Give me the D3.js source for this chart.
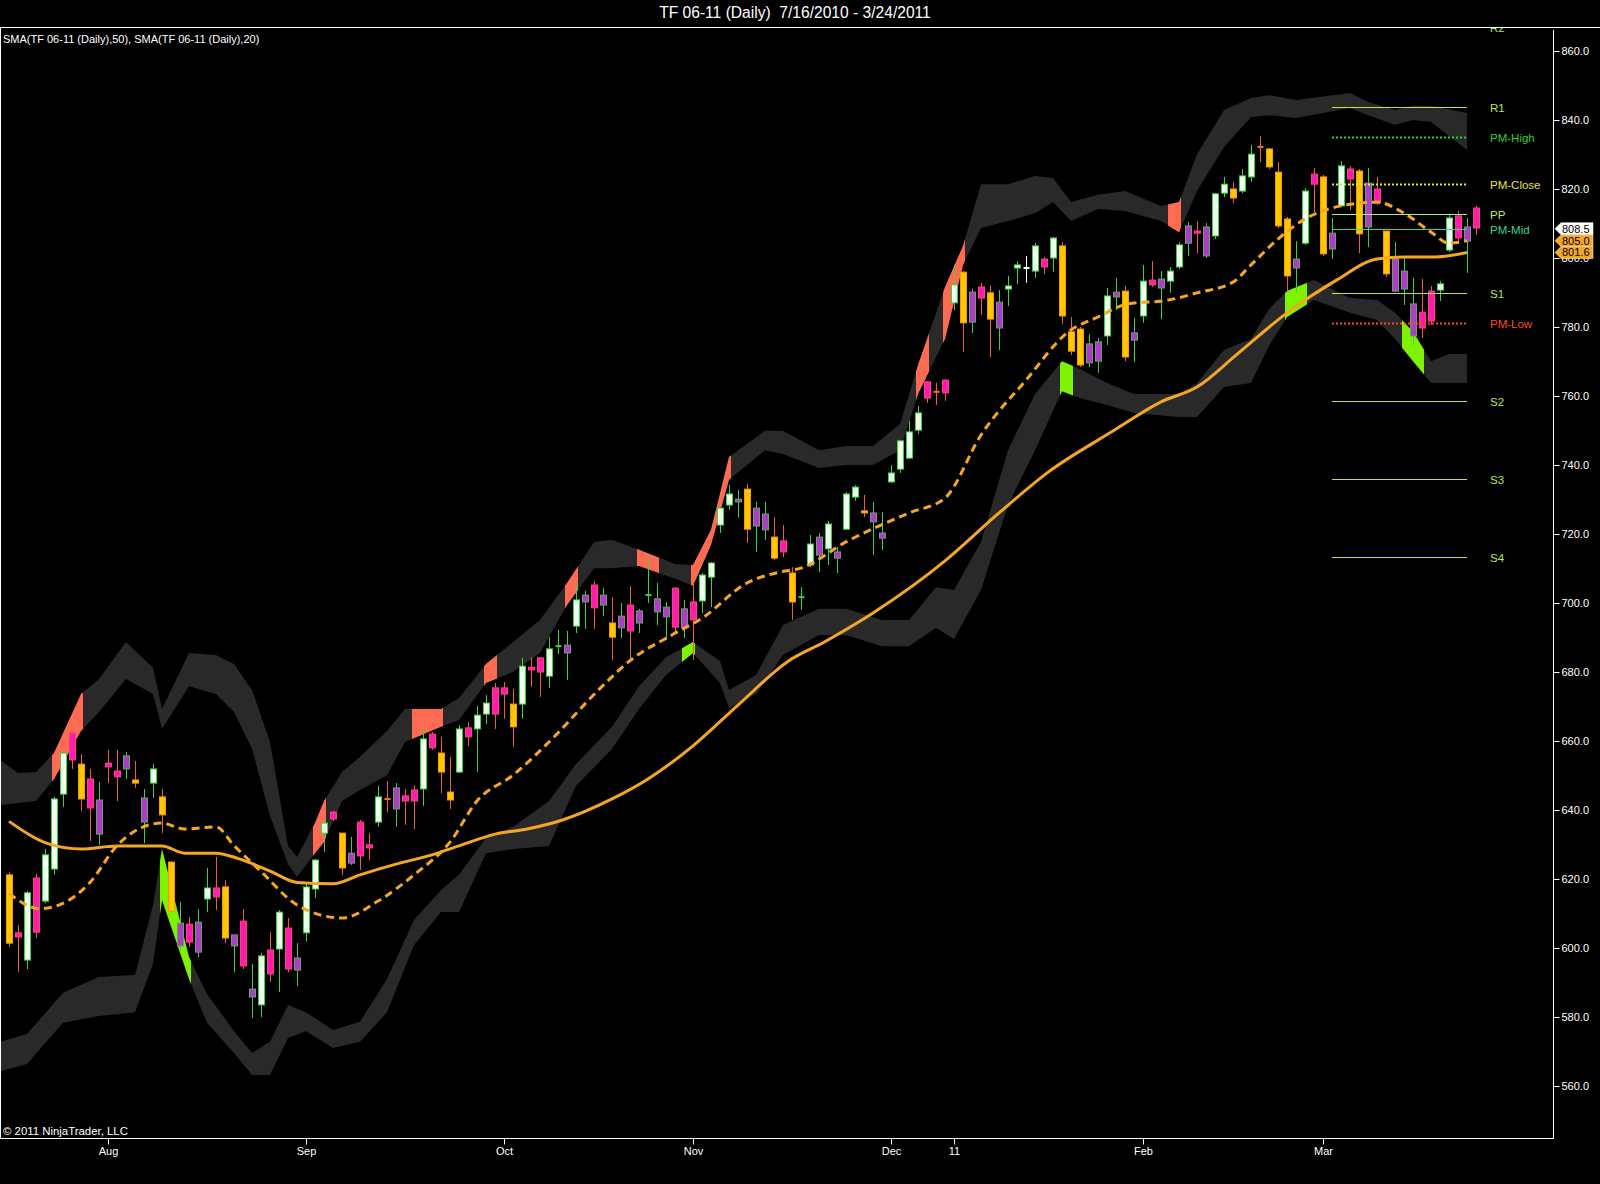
<!DOCTYPE html>
<html>
<head>
<meta charset="utf-8">
<title>TF 06-11 (Daily)</title>
<script src="https://cdnjs.cloudflare.com/ajax/libs/d3/7.8.5/d3.min.js"></script>
<style>
body { margin: 0; background: #000; }
svg { display: block; font-family: 'Liberation Sans', Arial, sans-serif; }
</style>
</head>
<body>
<svg width="1600" height="1184"></svg>
<script>
// daily bars, 7/16/2010 - 3/24/2011 (bar index 0..163)
var opens = [621.2,604.4,596.5,620.3,613.6,622.9,644.6,662.3,653.3,649.0,
633.0,653.6,651.3,651.9,648.7,636.5,647.8,643.8,624.9,600.6,
606.9,598.8,614.2,617.4,617.7,600.6,607.8,585.8,583.5,599.4,
599.7,605.8,593.6,604.4,617.1,633.3,639.4,633.3,624.6,636.5,
629.9,636.5,643.2,640.3,644.1,645.8,646.1,662.0,656.5,645.2,
651.0,663.8,663.5,667.8,675.4,675.4,670.7,670.7,681.4,684.1,
678.8,687.5,685.5,693.3,700.3,705.2,699.4,694.2,692.8,699.4,
694.2,702.3,697.4,696.0,704.3,692.8,700.3,700.6,707.5,722.6,
728.4,729.3,733.0,722.3,721.2,719.1,718.0,708.7,701.7,711.0,
713.9,715.7,713.0,721.4,730.7,726.7,723.5,718.8,735.1,738.8,
742.0,750.1,764.1,761.2,764.6,787.0,795.9,781.4,791.6,789.9,
779.7,791.0,797.1,797.1,796.2,799.7,800.0,803.5,778.6,779.4,
769.6,770.1,777.4,788.7,790.4,776.2,783.2,793.6,791.3,793.3,
797.4,804.3,807.8,800.6,806.4,818.8,820.0,819.4,823.5,832.2,
831.6,824.9,811.3,797.1,804.3,824.3,823.5,802.6,815.1,825.8,
825.2,809.0,820.0,807.8,790.4,791.0,777.4,784.3,790.4,790.7,
802.3,812.2,804.9,814.5];
var highs = [622.0,606.7,616.5,621.5,628.7,643.8,657.1,662.5,656.2,651.9,
648.1,657.4,657.4,656.8,654.2,646.1,653.3,646.1,625.2,613.3,
609.0,611.3,623.2,626.4,619.7,603.8,611.3,595.4,598.6,604.6,
611.0,608.7,601.4,619.1,625.8,637.1,639.7,633.3,632.2,637.1,
633.3,647.0,648.4,647.8,646.1,647.2,664.1,662.6,661.2,655.4,
664.6,665.5,670.1,673.3,676.8,677.1,675.1,684.1,684.3,684.3,
690.1,692.2,691.9,705.8,703.5,706.4,704.3,701.7,700.0,704.9,
698.3,713.3,705.8,700.3,704.6,700.9,705.8,708.7,711.9,728.4,
734.2,732.8,734.5,729.3,729.3,724.9,722.6,710.4,704.6,719.7,
720.3,723.8,716.2,732.2,734.2,731.3,729.3,726.4,740.0,747.0,
752.8,757.1,764.3,763.8,764.9,798.0,796.2,791.0,792.8,791.9,
790.7,794.8,799.1,800.6,804.3,800.3,806.1,804.6,782.9,780.0,
778.0,776.8,791.3,794.2,791.9,782.6,798.0,799.1,796.2,797.4,
804.6,810.4,810.7,810.1,818.8,823.5,822.0,825.8,832.8,835.4,
831.9,827.8,811.9,804.9,820.3,826.1,824.1,811.6,828.1,826.7,
825.8,826.1,823.5,807.8,804.6,800.3,794.2,793.9,791.9,793.3,
812.5,813.6,811.6,815.1];
var lows = [600.3,593.0,593.9,602.9,613.0,621.2,640.9,651.9,639.7,631.0,
629.9,647.8,642.6,649.0,646.4,630.4,643.5,633.3,610.4,599.4,
600.3,597.4,610.4,611.0,601.4,593.0,593.9,579.7,580.0,590.1,
587.2,593.0,589.0,602.0,614.5,627.8,636.8,621.2,624.1,622.6,
625.5,635.1,639.4,635.1,635.7,634.5,641.2,657.4,644.9,640.3,
650.7,658.6,651.0,664.9,663.5,666.4,658.3,666.4,675.7,672.8,
675.4,685.2,677.7,691.3,692.5,692.5,696.2,683.5,689.9,683.5,
691.3,700.0,693.6,689.3,691.3,689.9,683.5,697.1,698.8,720.3,
727.0,724.9,717.4,714.8,718.3,712.5,713.3,695.1,698.0,710.4,
709.0,711.0,708.7,721.2,729.6,724.9,713.9,715.4,734.8,737.7,
741.7,749.0,758.0,757.4,758.6,784.9,772.8,778.3,783.5,771.3,
773.3,786.1,792.5,792.8,794.2,795.4,795.9,780.9,771.9,768.4,
768.4,766.7,774.8,784.9,770.1,769.9,781.2,791.6,782.3,789.9,
796.8,800.6,801.4,800.0,805.5,817.7,815.9,818.8,822.0,827.8,
825.8,808.7,790.1,790.1,803.8,813.3,800.6,799.7,814.8,813.9,
801.4,803.2,815.4,794.5,790.1,786.4,774.8,776.8,780.6,787.5,
801.7,804.9,795.7,806.7];
var closes = [601.4,603.2,616.0,604.6,627.0,643.2,656.5,654.5,643.2,640.6,
642.9,652.5,649.6,655.7,647.8,643.5,651.9,638.6,610.7,607.2,
601.7,607.5,617.4,614.8,602.9,603.8,594.8,588.1,597.7,592.5,
610.4,593.9,597.1,617.7,625.5,636.2,637.4,623.2,627.5,626.7,
629.0,643.8,643.2,646.4,642.6,642.6,660.6,658.0,651.0,642.9,
663.5,661.2,667.5,671.0,667.8,673.6,664.1,681.7,680.6,680.0,
686.7,687.5,687.8,700.9,702.3,698.6,702.3,690.1,696.2,691.9,
697.7,702.3,701.2,698.8,693.0,698.3,695.1,708.1,711.6,727.5,
731.6,730.1,721.4,727.5,725.8,713.0,714.8,700.3,701.7,717.1,
719.1,722.9,714.8,731.6,733.6,726.1,726.1,720.3,737.7,747.0,
749.6,755.1,759.4,761.2,760.9,792.2,781.2,790.1,788.4,782.3,
787.2,791.9,798.0,797.1,803.5,797.4,805.8,783.2,773.0,769.0,
775.1,775.7,789.0,790.1,771.3,778.3,793.3,792.2,793.9,796.2,
803.8,809.3,807.2,809.0,818.6,821.4,817.4,823.8,830.1,832.2,
826.4,809.3,794.8,799.7,819.4,821.4,801.2,807.2,826.7,822.9,
807.0,821.7,815.9,795.4,799.7,796.2,786.7,779.7,781.7,792.5,
811.6,805.8,809.0,808.7];
// bar paint: w white up, p purple up, y gold down, m magenta down, d/g/x doji
var kinds = "ymwmwwwmympmmpypwyypmpwmypmpwmwmpwwwmypmmwdpmmwmyywmwwmmywmmwgpwpmpypmpgppmpmwwwwpyppymygwpwpwwyppwwwwmdmwypmypwwxwmwyyyppwpypwmpwwpmpwwywwdyyypwmypwmypmypppmmwwmpm".split("");

var monthIdx = [11, 33, 55, 76, 98, 105, 126, 146];
var monthLabels = ["Aug", "Sep", "Oct", "Nov", "Dec", "11", "Feb", "Mar"];
var priceTicks = [560, 580, 600, 620, 640, 660, 680, 700, 720, 740, 760, 780, 800, 820, 840, 860];

// SMA(50) and SMA(20), read at these bar positions
var sma50Idx = [0,4.5,8,12,17,19.5,23,25.5,29,32,36,39,43,47,50,54,57.6,61.5,67,71,76,81,86.5,90.6,96,104,110,115.5,122.7,128,132,136.5,142,147.5,152,155,158.5,162];
var sma50Val = [636.7,630.1,628.7,629.6,629.6,627.5,627.5,625.9,622.3,619.0,618.6,621.2,624.3,627.0,629.6,633.0,634.5,637.1,643.2,649.0,658.6,670.4,683.0,688.7,697.1,712.2,726.1,738.0,749.9,758.3,762.6,772.2,784.1,793.6,799.7,800.3,800.3,801.6];
var sma20Idx = [0,3.4,5.6,9,12,15.6,17,19.5,23,25,28,32,37,41,45,49,52,56,60,65.5,69,73.7,77,82,85.7,88,93,100,104,108,113,117.7,121,124.3,128.8,132,136,138,141,144,148,152,155,158,160,162];
var sma20Val = [615.8,611.4,612.5,619.0,629.7,635.7,636.2,634.5,635.1,629.7,622.2,612.5,608.7,613.6,621.2,630.7,642.6,650.1,659.7,674.8,683.3,690.8,695.6,705.8,709.0,710.1,717.7,726.1,730.4,748.7,764.6,778.6,782.9,786.7,787.8,789.9,793.0,798.0,805.5,811.3,815.1,816.2,813.0,807.5,804.3,805.0];

// upper and lower envelope bands (outer / inner edge)
var upIdx = [-1,1,3,5,8,10,13,16,17,20,23,25,27,29,31,32,34,35,37,39,42,44,48,50,53,56,59,62,65,67,70,74,76,78,80,84,86,90,93,96,99,101,104,106,108,111,114,116,118,121,124,128,130,132,135,138,140,143,149,151,154,156,158,162];
var upTop = [654.5,650.7,651.0,656.5,673.6,678.0,688.7,681.2,669.3,685.5,684.9,682.3,674.8,659.7,629.6,626.4,636.2,642.6,651.0,655.4,662.9,669.3,669.3,672.5,682.3,688.7,695.1,705.8,717.7,718.3,715.4,711.3,711.0,721.2,742.3,749.9,749.9,744.3,745.5,745.5,751.9,769.0,791.6,803.5,821.4,821.4,823.8,823.2,816.2,818.3,819.4,815.1,816.2,830.1,842.9,846.4,847.2,845.8,847.8,845.2,842.9,844.1,844.1,842.0];
var upBot = [641.4,642.0,642.6,649.0,662.9,668.4,678.0,673.6,663.5,675.9,673.6,668.4,657.7,638.3,624.3,620.6,627.5,630.7,642.6,645.8,650.1,659.7,664.1,666.1,676.8,680.0,685.5,699.4,710.1,710.1,710.7,707.0,705.0,716.8,735.7,744.3,743.2,739.1,740.0,740.0,744.3,760.6,776.5,798.0,808.7,810.7,813.0,816.2,810.7,814.2,813.6,810.7,807.5,819.4,832.2,840.9,841.4,840.6,843.5,841.4,838.6,840.0,839.4,831.3];
var loIdx = [-1,2,6,10,14,16,17,20,22,25,27,29,31,33,36,39,42,45,48,50,53,56,60,63,67,70,73,76,79,80,83,86,90,93,97,100,103,105,108,111,114,117,119,122,125,130,132,135,138,140,142,145,149,152,154,156,158,160,162];
var loTop = [572.8,575.1,587.0,591.6,592.2,612.5,628.7,597.4,586.7,575.9,569.6,572.8,583.5,581.4,576.2,578.6,591.0,608.1,616.8,621.2,631.9,635.1,642.6,653.3,664.1,675.9,684.3,688.7,683.2,674.8,679.1,693.6,698.3,698.3,695.1,695.1,704.6,703.8,717.7,744.3,760.6,770.1,767.8,763.8,760.6,760.6,763.8,773.3,776.5,785.2,790.4,793.6,788.4,787.8,784.1,778.6,770.1,772.2,772.2];
var loBot = [564.3,566.4,578.3,580.3,581.4,595.4,613.9,591.0,578.3,569.6,563.2,563.2,573.9,575.9,571.0,572.8,581.4,600.9,610.4,610.4,627.5,628.7,629.6,647.0,657.7,669.3,679.1,685.5,676.8,669.6,673.6,684.9,690.7,690.7,687.5,687.5,692.8,689.6,703.8,728.4,744.3,761.4,759.4,757.4,755.1,753.9,753.9,762.6,763.8,774.5,782.9,787.8,784.1,782.0,776.5,770.1,763.8,763.8,763.8];
// bar ranges where price pierced a band
var redZones = [[5,8],[34,35],[45,48],[53,54],[62,63],[70,72],[76,80],[101,102],[104,106],[129,130]];
var greenZones = [[17,20],[75,76],[117,118],[142,144],[155,157]];

// pivot levels, drawn over the last bars
var pivotNames = ["R2","R1","PM-High","PM-Close","PP","PM-Mid","S1","PM-Low","S2","S3","S4"];
var pivotValues = [867.0,843.9,835.2,821.4,812.7,808.3,789.8,781.3,758.6,735.8,713.3];
var pivotFrom = 147, pivotTo = 162;
var markerValues = [808.5, 805.0, 801.6];

var pivotColor = {"PM-High": "#2fd02f", "PM-Close": "#e6e63a", "PP": "#a8f08a", "PM-Mid": "#30d890", "PM-Low": "#ff4a1e"};
var pivotLabelColor = {"PP": "#c4ee5a"};
var pivotDotted = {"PM-High": 1, "PM-Close": 1, "PM-Low": 1};
var paint = {
  w: {fill: "#efffef", stroke: "#3ed23e", wick: "#3ed23e"},
  p: {fill: "#ad3cc6", stroke: "#6f9c74", wick: "#3ed23e"},
  y: {fill: "#ffc800", stroke: "#ff9800", wick: "#e8642c"},
  m: {fill: "#ff1eaa", stroke: "#ff3c8c", wick: "#e8642c"},
  d: {fill: "none", stroke: "#ff6a2a", wick: "#e8642c"},
  g: {fill: "none", stroke: "#3ed23e", wick: "#3ed23e"},
  x: {fill: "none", stroke: "#ffffff", wick: "#ffffff"}
};

var svg = d3.select("svg");
var x = d3.scaleLinear().domain([0, 163]).range([9, 1476]);
var y = d3.scaleLinear().domain([560, 860]).range([1086, 51]);

var defs = svg.append("defs");
defs.append("clipPath").attr("id", "plot").append("rect")
  .attr("x", 1).attr("y", 28).attr("width", 1552).attr("height", 1110);
defs.append("clipPath").attr("id", "red").selectAll("rect").data(redZones).enter().append("rect")
  .attr("x", function(d) { return x(d[0]) - 2; }).attr("y", 0)
  .attr("width", function(d) { return x(d[1]) - x(d[0]) + 4; }).attr("height", 1184);
defs.append("clipPath").attr("id", "green").selectAll("rect").data(greenZones).enter().append("rect")
  .attr("x", function(d) { return x(d[0]) - 2; }).attr("y", 0)
  .attr("width", function(d) { return x(d[1]) - x(d[0]) + 4; }).attr("height", 1184);

var plot = svg.append("g").attr("clip-path", "url(#plot)");

function band(idx, top, bot) {
  var pts = idx.map(function(d, i) { return [d, top[i], bot[i]]; });
  return d3.area().x(function(d) { return x(d[0]); })
    .y0(function(d) { return y(d[2]); }).y1(function(d) { return y(d[1]); })(pts);
}
var upPath = band(upIdx, upTop, upBot), loPath = band(loIdx, loTop, loBot);
plot.append("path").attr("d", upPath).attr("fill", "#292929");
plot.append("path").attr("d", loPath).attr("fill", "#292929");
plot.append("g").attr("clip-path", "url(#red)").append("path").attr("d", upPath).attr("fill", "#ff6a52");
plot.append("g").attr("clip-path", "url(#green)").append("path").attr("d", loPath).attr("fill", "#7cf400");

// candles
var bars = plot.append("g").selectAll("g").data(opens).enter().append("g");
bars.append("line")
  .attr("x1", function(d, i) { return Math.round(x(i)) + 0.5; })
  .attr("x2", function(d, i) { return Math.round(x(i)) + 0.5; })
  .attr("y1", function(d, i) { return y(highs[i]); })
  .attr("y2", function(d, i) { return y(lows[i]); })
  .attr("stroke", function(d, i) { return paint[kinds[i]].wick; })
  .attr("stroke-width", 1);
bars.each(function(o, i) {
  var k = kinds[i], s = paint[k], g = d3.select(this), cx = Math.round(x(i)) + 0.5;
  if (k == "d" || k == "g" || k == "x") {
    g.append("line").attr("x1", cx - 3).attr("x2", cx + 3)
      .attr("y1", y(closes[i])).attr("y2", y(closes[i]))
      .attr("stroke", s.stroke).attr("stroke-width", 2);
    return;
  }
  var top = y(Math.max(o, closes[i])), bot = y(Math.min(o, closes[i]));
  g.append("rect").attr("x", cx - 3).attr("width", 6)
    .attr("y", top).attr("height", Math.max(2, bot - top))
    .attr("fill", s.fill).attr("stroke", s.stroke).attr("stroke-width", 1);
});

// moving averages
var line = d3.line().x(function(d) { return x(d[0]); }).y(function(d) { return y(d[1]); }).curve(d3.curveMonotoneX);
plot.append("path").attr("d", line(sma50Idx.map(function(d, i) { return [d, sma50Val[i]]; })))
  .attr("fill", "none").attr("stroke", "#f5a623").attr("stroke-width", 3);
plot.append("path").attr("d", line(sma20Idx.map(function(d, i) { return [d, sma20Val[i]]; })))
  .attr("fill", "none").attr("stroke", "#f5a623").attr("stroke-width", 3).attr("stroke-dasharray", "8,5");

// pivots
pivotNames.forEach(function(name, i) {
  var c = pivotColor[name] || "#b6e83e", yy = Math.round(y(pivotValues[i])) + 0.5;
  plot.append("line").attr("x1", x(pivotFrom)).attr("x2", x(pivotTo)).attr("y1", yy).attr("y2", yy)
    .attr("stroke", c).attr("stroke-width", pivotDotted[name] ? 2 : 1)
    .attr("stroke-dasharray", pivotDotted[name] ? "2,2" : null);
  plot.append("text").attr("x", 1490).attr("y", yy).attr("dy", "0.36em")
    .attr("fill", pivotLabelColor[name] || c).attr("font-size", 11.5).text(name);
});

// frame
svg.append("line").attr("x1", 0).attr("x2", 1600).attr("y1", 27.5).attr("y2", 27.5).attr("stroke", "#fff");
svg.append("line").attr("x1", 0.5).attr("x2", 0.5).attr("y1", 27).attr("y2", 1138).attr("stroke", "#fff");
svg.append("line").attr("x1", 0).attr("x2", 1554).attr("y1", 1138.5).attr("y2", 1138.5).attr("stroke", "#fff");
svg.append("line").attr("x1", 1553.5).attr("x2", 1553.5).attr("y1", 30).attr("y2", 1139).attr("stroke", "#fff");

// price axis
var yAxis = svg.append("g").attr("transform", "translate(1553.5,0)")
  .call(d3.axisRight(y).tickValues(priceTicks).tickFormat(d3.format(".1f")).tickSize(6).tickPadding(2));
yAxis.select(".domain").remove();
yAxis.selectAll("line").attr("stroke", "#fff");
yAxis.selectAll("text").attr("fill", "#fff").attr("font-size", 11).attr("font-family", "'Liberation Sans', Arial, sans-serif");

// time axis
var xAxis = svg.append("g").attr("transform", "translate(0,1138.5)")
  .call(d3.axisBottom(x).tickValues(monthIdx).tickFormat(function(d, i) { return monthLabels[i]; }).tickSize(6).tickPadding(3));
xAxis.select(".domain").remove();
xAxis.selectAll("line").attr("stroke", "#fff");
xAxis.selectAll("text").attr("fill", "#fff").attr("font-size", 11).attr("font-family", "'Liberation Sans', Arial, sans-serif");

// last-value markers
var markerFill = ["#ffffff", "#f5a623", "#f5a623"];
markerValues.forEach(function(v, i) {
  var yy = y(v);
  svg.append("path")
    .attr("d", "M1555," + yy + "L1561," + (yy - 6) + "L1593," + (yy - 6) + "L1593," + (yy + 6) + "L1561," + (yy + 6) + "Z")
    .attr("fill", markerFill[i]).attr("stroke", "#fff").attr("stroke-width", 0.5);
  svg.append("text").attr("x", 1562).attr("y", yy).attr("dy", "0.36em")
    .attr("fill", "#000").attr("font-size", 11).text(d3.format(".1f")(v));
});

// texts
svg.append("text").attr("x", 795).attr("y", 18).attr("text-anchor", "middle")
  .attr("fill", "#fff").attr("font-size", 15.6).style("white-space", "pre")
  .text("TF 06-11 (Daily)  7/16/2010 - 3/24/2011");
svg.append("text").attr("x", 3).attr("y", 43).attr("fill", "#fff").attr("font-size", 11)
  .text("SMA(TF 06-11 (Daily),50), SMA(TF 06-11 (Daily),20)");
svg.append("text").attr("x", 3).attr("y", 1135).attr("fill", "#fff").attr("font-size", 11.4)
  .text("\u00a9 2011 NinjaTrader, LLC");
</script>
</body>
</html>
